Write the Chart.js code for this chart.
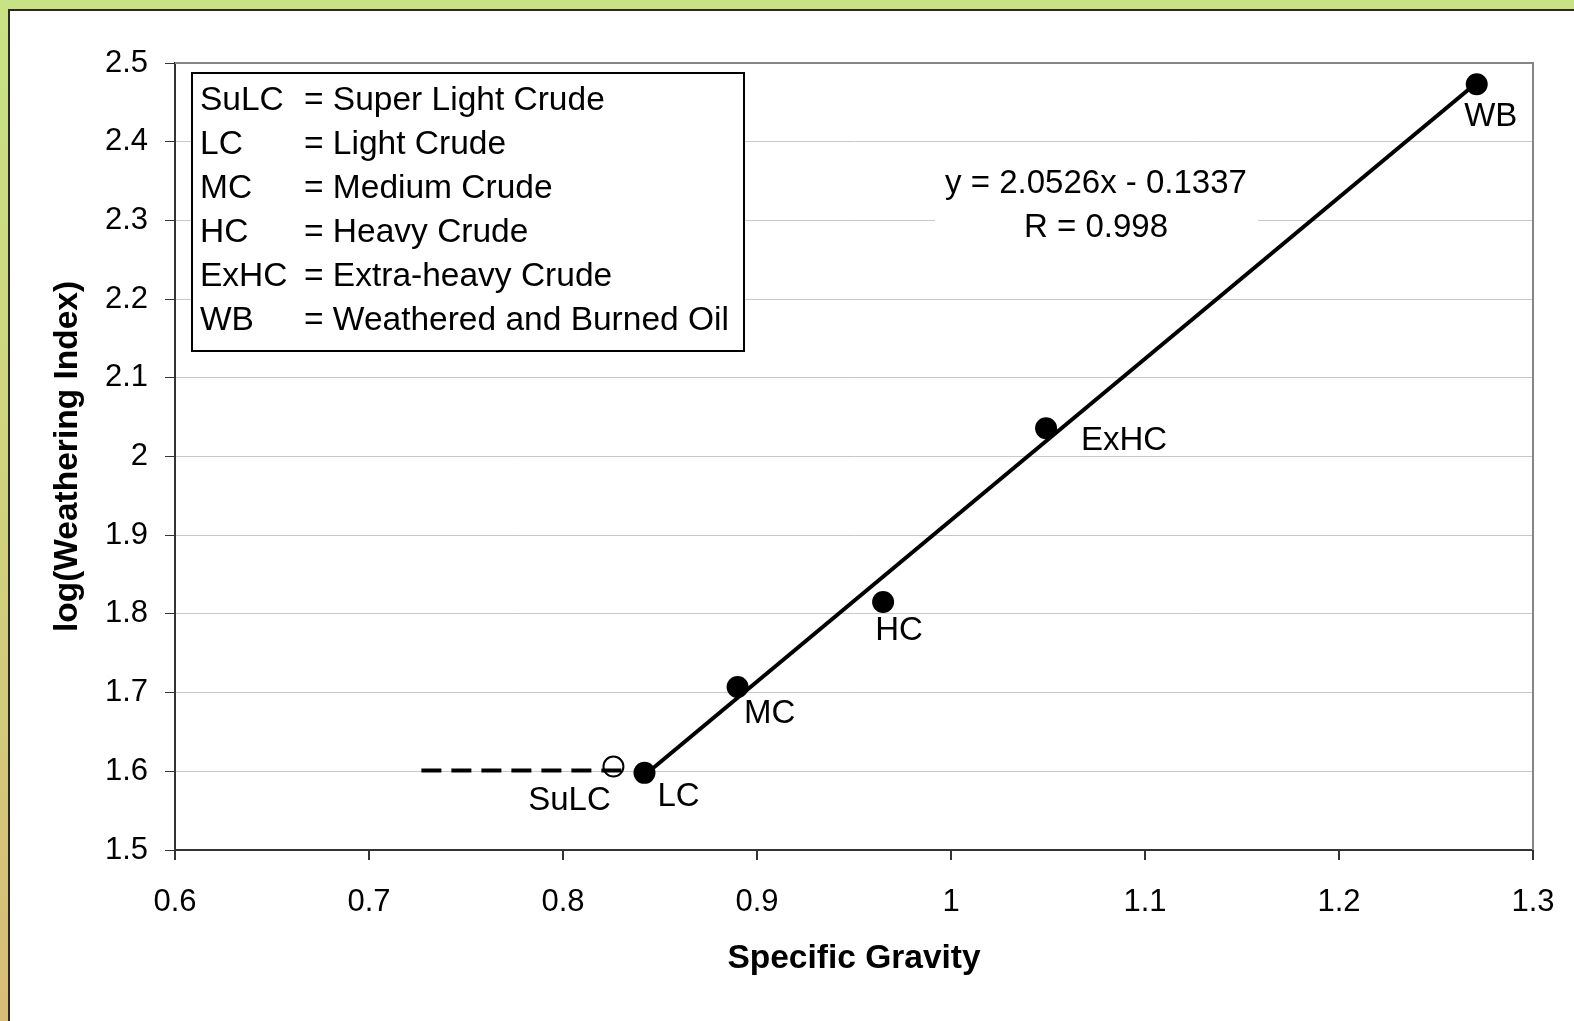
<!DOCTYPE html>
<html>
<head>
<meta charset="utf-8">
<script src="https://cdn.jsdelivr.net/npm/chart.js@4/dist/chart.umd.min.js"></script>
<style>
  html, body { margin: 0; padding: 0; }
  body {
    width: 1574px; height: 1021px; overflow: hidden; position: relative;
    background: linear-gradient(to bottom, #c8e286 0%, #cfd47e 45%, #d8bc78 100%);
  }
  #panel {
    position: absolute; left: 8px; top: 9px; right: 0; bottom: 0;
    background: #fff; border-left: 2px solid #2a2a2a; border-top: 2px solid #2a2a2a;
  }
  #myChart { position: absolute; left: 0; top: 0; }
</style>
</head>
<body>
<div id="panel"></div>
<canvas id="myChart" width="1574" height="1021"></canvas>
<script>
'use strict';

// measured crudes (specific gravity vs log of weathering index)
const pointNames = ['LC', 'MC', 'HC', 'ExHC', 'WB'];
const gravity = [0.842, 0.890, 0.965, 1.049, 1.271];
const logIndex = [1.598, 1.707, 1.815, 2.036, 2.473];

// super light crude, open marker + dashed range
const sulcName = 'SuLC';
const sulcX = 0.826;
const sulcY = 1.606;
const sulcRangeX = [0.727, 0.832];
const sulcRangeY = [1.601, 1.601];

// fitted line, as drawn
const fitX = [0.842, 1.271];
const fitY = [1.595, 2.475];
const fitText = ['y = 2.0526x - 0.1337', 'R = 0.998'];

// abbreviations box
const legendCodes = ['SuLC', 'LC', 'MC', 'HC', 'ExHC', 'WB'];
const legendNames = ['= Super Light Crude', '= Light Crude', '= Medium Crude',
  '= Heavy Crude', '= Extra-heavy Crude', '= Weathered and Burned Oil'];

const xMin = 0.6, xMax = 1.3, xStep = 0.1;
const yMin = 1.5, yMax = 2.5, yStep = 0.1;

const FONT = '"Liberation Sans", Arial, sans-serif';

// label offsets in px from each point
const labelOffsets = [[34, 24], [32, 27], [16, 29], [78, 13], [14, 33]];
const sulcOffset = [-44, 34];

function toXY(xs, ys) {
  return xs.map((x, i) => ({ x: x, y: ys[i] }));
}

const extras = {
  id: 'extras',
  beforeDatasetsDraw(chart) {
    const { ctx, chartArea: a } = chart;
    ctx.save();
    // white box behind the equation
    ctx.fillStyle = '#fff';
    ctx.fillRect(935, 158, 323, 92);
    // plot border top/right
    ctx.strokeStyle = '#868686';
    ctx.lineWidth = 2;
    ctx.beginPath();
    ctx.moveTo(a.left, a.top);
    ctx.lineTo(a.right, a.top);
    ctx.lineTo(a.right, a.bottom);
    ctx.stroke();
    ctx.restore();
  },
  afterDatasetsDraw(chart) {
    const { ctx, chartArea: a, scales } = chart;
    const xs = scales.x, ys = scales.y;
    ctx.save();
    ctx.fillStyle = '#000';
    ctx.font = '33px ' + FONT;
    ctx.textAlign = 'center';
    ctx.textBaseline = 'middle';

    pointNames.forEach((n, i) => {
      const px = xs.getPixelForValue(gravity[i]);
      const py = ys.getPixelForValue(logIndex[i]);
      ctx.fillText(n, px + labelOffsets[i][0], py + labelOffsets[i][1]);
    });
    ctx.fillText(sulcName, xs.getPixelForValue(sulcX) + sulcOffset[0],
      ys.getPixelForValue(sulcY) + sulcOffset[1]);

    // equation
    ctx.fillText(fitText[0], 1096, 184);
    ctx.fillText(fitText[1], 1096, 228);

    // abbreviations box
    const bx = a.left + 17, by = a.top + 10, bw = 552, bh = 278;
    ctx.fillStyle = '#fff';
    ctx.fillRect(bx, by, bw, bh);
    ctx.strokeStyle = '#000';
    ctx.lineWidth = 2;
    ctx.strokeRect(bx, by, bw, bh);
    ctx.fillStyle = '#000';
    ctx.textAlign = 'left';
    ctx.font = '33.5px ' + FONT;
    legendCodes.forEach((c, i) => {
      const ly = by + 28 + i * 44;
      ctx.fillText(c, bx + 8, ly);
      ctx.fillText(legendNames[i], bx + 112, ly);
    });
    ctx.restore();
  }
};

const ctx = document.getElementById('myChart').getContext('2d');

const myChart = new Chart(ctx, {
  type: 'scatter',
  data: {
    datasets: [
      {
        label: 'fit',
        data: toXY(fitX, fitY),
        showLine: true,
        borderColor: '#000',
        borderWidth: 4,
        pointRadius: 0
      },
      {
        label: 'SuLC range',
        data: toXY(sulcRangeX, sulcRangeY),
        showLine: true,
        borderColor: '#000',
        borderWidth: 4,
        borderDash: [20, 10],
        pointRadius: 0
      },
      {
        label: 'crudes',
        data: toXY(gravity, logIndex),
        backgroundColor: '#000',
        borderColor: '#000',
        pointRadius: 11,
        pointBorderWidth: 0
      },
      {
        label: 'SuLC',
        data: [{ x: sulcX, y: sulcY }],
        backgroundColor: 'rgba(0,0,0,0)',
        borderColor: '#000',
        pointRadius: 10,
        pointBorderWidth: 2
      }
    ]
  },
  options: {
    responsive: false,
    animation: false,
    layout: { padding: { left: 0, top: 63, right: 41, bottom: 0 } },
    plugins: {
      legend: { display: false },
      tooltip: { enabled: false }
    },
    scales: {
      x: {
        type: 'linear',
        min: xMin,
        max: xMax,
        afterFit: s => { s.height = 171; s.paddingLeft = 0; s.paddingRight = 0; },
        border: { display: true, color: '#333', width: 2 },
        grid: { drawOnChartArea: false, tickColor: '#333', tickLength: 10, lineWidth: 2 },
        ticks: {
          stepSize: xStep,
          color: '#000',
          padding: 24,
          font: { family: FONT, size: 31 },
          callback: v => String(Math.round(v * 10) / 10)
        },
        title: {
          display: true,
          text: 'Specific Gravity',
          color: '#000',
          font: { family: FONT, size: 33.5, weight: 'bold' },
          padding: { top: 0, bottom: 42 }
        }
      },
      y: {
        type: 'linear',
        min: yMin,
        max: yMax,
        afterFit: s => { s.width = 175; },
        border: { display: true, color: '#333', width: 2 },
        grid: { color: '#c8c8c8', lineWidth: 1, tickColor: '#333', tickLength: 10 },
        ticks: {
          stepSize: yStep,
          color: '#000',
          padding: 17,
          font: { family: FONT, size: 31 },
          callback: v => String(Math.round(v * 10) / 10)
        },
        title: {
          display: true,
          text: 'log(Weathering Index)',
          color: '#000',
          font: { family: FONT, size: 33.5, weight: 'bold' },
          padding: { top: 48, bottom: 0 }
        }
      }
    }
  },
  plugins: [extras]
});
</script>
</body>
</html>
